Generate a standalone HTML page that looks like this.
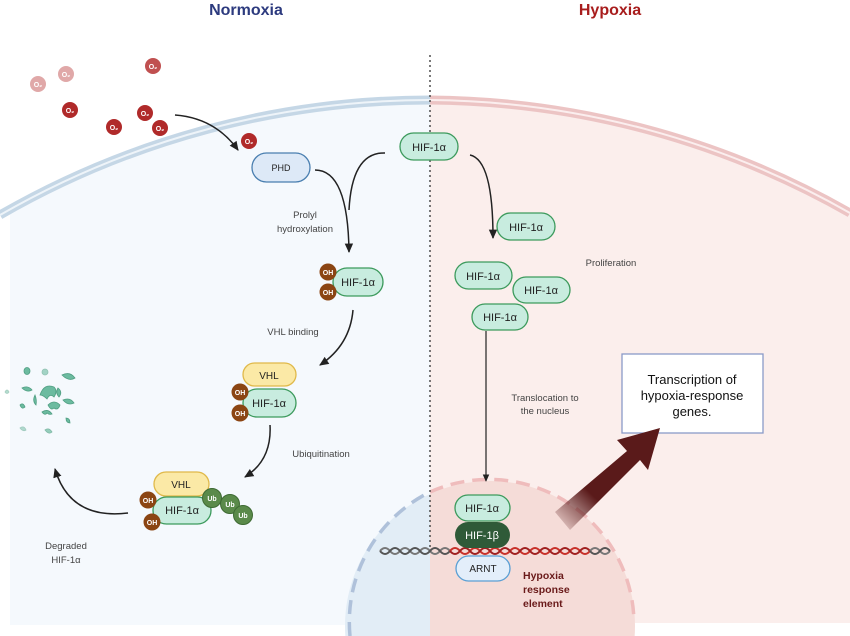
<!DOCTYPE html>
<html><head><meta charset="utf-8"><style>
html,body{margin:0;padding:0;background:#fff}
svg{display:block;font-family:"Liberation Sans",sans-serif}
</style></head><body>
<svg width="850" height="636" viewBox="0 0 850 636" xmlns="http://www.w3.org/2000/svg">
<defs>
<clipPath id="cell"><circle cx="430" cy="961" r="861"/></clipPath>
<clipPath id="nuc"><circle cx="490" cy="626" r="145"/></clipPath>
<marker id="ah" viewBox="0 0 10 10" refX="8" refY="5" markerWidth="7" markerHeight="7" orient="auto"><path d="M0,1 L9,5 L0,9 Z" fill="#222"/></marker>
<linearGradient id="ag" x1="0" y1="1" x2="1" y2="0"><stop offset="0" stop-color="#5a1a1a" stop-opacity="0"/><stop offset="0.35" stop-color="#5a1a1a"/><stop offset="1" stop-color="#5a1a1a"/></linearGradient>
</defs>
<g clip-path="url(#cell)">
<rect x="10" y="90" width="420" height="535" fill="#f5f9fd"/>
<rect x="430" y="90" width="420" height="533" fill="#fbeeec"/>
</g>
<g fill="none">
<path d="M0,215 A861,861 0 0 1 430,100" stroke="#c5d7e6" stroke-width="9"/>
<path d="M0,215 A861,861 0 0 1 430,100" stroke="#eef4f9" stroke-width="2"/>
<path d="M430,100 A861,861 0 0 1 850,213" stroke="#ecc4c4" stroke-width="9"/>
<path d="M430,100 A861,861 0 0 1 850,213" stroke="#fbeeee" stroke-width="2"/>
</g>
<g clip-path="url(#nuc)">
<rect x="340" y="470" width="90" height="166" fill="#e2edf6"/>
<rect x="430" y="470" width="230" height="166" fill="#f5dcd8"/>
</g>
<path d="M350,636 A145,145 0 0 1 430,492" fill="none" stroke="#afc1da" stroke-width="3.5" stroke-dasharray="14,8"/>
<path d="M430,492 A145,145 0 0 1 634,622" fill="none" stroke="#efbcbc" stroke-width="3.5" stroke-dasharray="14,8"/>
<line x1="430" y1="55" x2="430" y2="555" stroke="#333" stroke-width="1.3" stroke-dasharray="2,3"/>
<text x="246" y="15" text-anchor="middle" font-size="16" font-weight="bold" fill="#2c3a7e">Normoxia</text>
<text x="610" y="15" text-anchor="middle" font-size="16" font-weight="bold" fill="#a81d1d">Hypoxia</text>

<g font-size="7" font-weight="bold" fill="#fff" text-anchor="middle">
<circle cx="38" cy="84" r="8" fill="#e0a8a8"/><text x="38" y="87">O₂</text>
<circle cx="66" cy="74" r="8" fill="#e0a8a8"/><text x="66" y="77">O₂</text>
<circle cx="153" cy="66" r="8" fill="#c05050"/><text x="153" y="69">O₂</text>
<circle cx="70" cy="110" r="8" fill="#b02a2a"/><text x="70" y="113">O₂</text>
<circle cx="114" cy="127" r="8" fill="#b02a2a"/><text x="114" y="130">O₂</text>
<circle cx="145" cy="113" r="8" fill="#b02a2a"/><text x="145" y="116">O₂</text>
<circle cx="160" cy="128" r="8" fill="#b02a2a"/><text x="160" y="131">O₂</text>
<circle cx="249" cy="141" r="8" fill="#b02a2a"/><text x="249" y="144">O₂</text>
</g>
<g fill="none" stroke="#222" stroke-width="1.5">
<path d="M175,115 Q215,118 238,150" marker-end="url(#ah)"/>
<path d="M315,170 Q348,170 349,252" marker-end="url(#ah)"/>
<path d="M385,153 Q352,152 349,210"/>
<path d="M353,310 Q350,345 320,365" marker-end="url(#ah)"/>
<path d="M270,425 Q272,460 245,477" marker-end="url(#ah)"/>
<path d="M128,513 Q70,520 55,469" marker-end="url(#ah)"/>
<path d="M470,155 Q493,160 493,238" marker-end="url(#ah)"/>
<path d="M486,331 L486,481" stroke-width="1.2" marker-end="url(#ah)"/>
</g>

<g font-size="11" fill="#222" text-anchor="middle">
<g><rect x="252" y="153" width="58" height="29" rx="14.5" fill="#dde9f7" stroke="#4a7fb0" stroke-width="1.3"/><text x="281" y="171" font-size="9">PHD</text></g>
<g><rect x="400" y="133" width="58" height="27" rx="13.5" fill="#c8ecdf" stroke="#3c9a5c" stroke-width="1.3"/><text x="429" y="151">HIF-1α</text></g>
</g>
<g font-size="9.5" fill="#444" text-anchor="middle">
<text x="305" y="218">Prolyl</text>
<text x="305" y="232">hydroxylation</text>
<text x="293" y="335">VHL binding</text>
<text x="321" y="457">Ubiquitination</text>
<text x="66" y="549">Degraded</text>
<text x="66" y="563">HIF-1α</text>
<text x="611" y="266">Proliferation</text>
<text x="545" y="401">Translocation to</text>
<text x="545" y="414">the nucleus</text>
</g>

<g font-size="11" text-anchor="middle" fill="#222">
<g>
<rect x="333" y="268" width="50" height="28" rx="14" fill="#c8ecdf" stroke="#3c9a5c" stroke-width="1.3"/><text x="358" y="286">HIF-1α</text>
<circle cx="328" cy="272" r="8.5" fill="#8b4513"/><circle cx="328" cy="292" r="8.5" fill="#8b4513"/>
<text x="328" y="275" font-size="7" font-weight="bold" fill="#fff">OH</text><text x="328" y="295" font-size="7" font-weight="bold" fill="#fff">OH</text>
</g>
<g>
<rect x="243" y="363" width="53" height="23" rx="11.5" fill="#fbe9a6" stroke="#e0b94a" stroke-width="1.3"/><text x="269" y="379" font-size="10">VHL</text>
<rect x="243" y="389" width="53" height="28" rx="14" fill="#c8ecdf" stroke="#3c9a5c" stroke-width="1.3"/><text x="269" y="407">HIF-1α</text>
<circle cx="240" cy="392" r="8.5" fill="#8b4513"/><circle cx="240" cy="413" r="8.5" fill="#8b4513"/>
<text x="240" y="395" font-size="7" font-weight="bold" fill="#fff">OH</text><text x="240" y="416" font-size="7" font-weight="bold" fill="#fff">OH</text>
</g>
<g>
<rect x="154" y="472" width="55" height="24" rx="12" fill="#fbe9a6" stroke="#e0b94a" stroke-width="1.3"/><text x="181" y="488" font-size="10">VHL</text>
<rect x="153" y="497" width="58" height="27" rx="13.5" fill="#c8ecdf" stroke="#3c9a5c" stroke-width="1.3"/><text x="182" y="514">HIF-1α</text>
<circle cx="148" cy="500" r="8.5" fill="#8b4513"/><circle cx="152" cy="522" r="8.5" fill="#8b4513"/>
<text x="148" y="503" font-size="7" font-weight="bold" fill="#fff">OH</text><text x="152" y="525" font-size="7" font-weight="bold" fill="#fff">OH</text>
<circle cx="212" cy="498" r="9.5" fill="#5a8a4a" stroke="#3e6a33"/><circle cx="230" cy="504" r="9.5" fill="#5a8a4a" stroke="#3e6a33"/><circle cx="243" cy="515" r="9.5" fill="#5a8a4a" stroke="#3e6a33"/>
<text x="212" y="501" font-size="7" font-weight="bold" fill="#fff">Ub</text><text x="230" y="507" font-size="7" font-weight="bold" fill="#fff">Ub</text><text x="243" y="518" font-size="7" font-weight="bold" fill="#fff">Ub</text>
</g>
<g fill="#6cbba0" stroke="#4f9e82" stroke-width="0.8">
<path d="M40,395 q4,-12 14,-8 q4,4 0,10 q-4,-4 -7,2 q-4,-4 -7,-4z"/>
<ellipse cx="27" cy="371" rx="3" ry="3.5"/><ellipse cx="45" cy="372" rx="3" ry="3" opacity="0.6"/>
<path d="M62,375 q8,-4 13,3 q-6,4 -13,-3z"/>
<path d="M22,388 q6,-3 10,2 q-5,3 -10,-2z"/><path d="M5,392 q2,-4 4,0 q-2,3 -4,0z" opacity="0.5"/>
<path d="M35,395 q2,5 1,10 q-4,-4 -1,-10z"/><path d="M58,388 q5,4 1,9 q-4,-4 -1,-9z"/>
<path d="M48,405 q6,-6 12,0 q-2,6 -6,3 q-3,3 -6,-3z"/>
<path d="M63,400 q7,-3 11,3 q-6,3 -11,-3z"/>
<path d="M20,405 q3,-3 5,2 q-3,3 -5,-2z"/>
<path d="M42,412 q6,-4 10,2 q-3,1 -5,-1 q-2,3 -5,-1z"/>
<path d="M66,418 q4,0 4,5 q-4,0 -4,-5z"/>
<path d="M20,428 q4,-3 6,2 q-3,2 -6,-2z" opacity="0.5"/><path d="M45,430 q4,-3 7,2 q-3,3 -7,-2z" opacity="0.7"/>
</g>
<g><rect x="497" y="213" width="58" height="27" rx="13.5" fill="#c8ecdf" stroke="#3c9a5c" stroke-width="1.3"/><text x="526" y="231">HIF-1α</text></g>
<g><rect x="455" y="262" width="57" height="27" rx="13.5" fill="#c8ecdf" stroke="#3c9a5c" stroke-width="1.3"/><text x="483" y="280">HIF-1α</text></g>
<g><rect x="513" y="277" width="57" height="26" rx="13" fill="#c8ecdf" stroke="#3c9a5c" stroke-width="1.3"/><text x="541" y="294">HIF-1α</text></g>
<g><rect x="472" y="304" width="56" height="26" rx="13" fill="#c8ecdf" stroke="#3c9a5c" stroke-width="1.3"/><text x="500" y="321">HIF-1α</text></g>
</g>

<g>
<rect x="622" y="354" width="141" height="79" fill="#fff" stroke="#8a9ac8" stroke-width="1.3"/>
<text x="692" y="384" text-anchor="middle" font-size="13" fill="#111">Transcription of</text>
<text x="692" y="400" text-anchor="middle" font-size="13" fill="#111">hypoxia-response</text>
<text x="692" y="416" text-anchor="middle" font-size="13" fill="#111">genes.</text>
</g>
<path d="M555,512 L627,451 L617,440 L660,428 L648,470 L640,460 L570,530 Z" fill="url(#ag)"/>

<g fill="none" stroke-width="2">
<path d="M380,551 q5,-6 10,0 q5,6 10,0 q5,-6 10,0 q5,6 10,0 q5,-6 10,0 q5,6 10,0 q5,-6 10,0" stroke="#777"/>
<path d="M380,551 q5,6 10,0 q5,-6 10,0 q5,6 10,0 q5,-6 10,0 q5,6 10,0 q5,-6 10,0 q5,6 10,0" stroke="#555"/>
<path d="M450,551 q5,-6 10,0 q5,6 10,0 q5,-6 10,0 q5,6 10,0 q5,-6 10,0 q5,6 10,0 q5,-6 10,0 q5,6 10,0 q5,-6 10,0 q5,6 10,0 q5,-6 10,0 q5,6 10,0 q5,-6 10,0 q5,6 10,0" stroke="#c8312a"/>
<path d="M450,551 q5,6 10,0 q5,-6 10,0 q5,6 10,0 q5,-6 10,0 q5,6 10,0 q5,-6 10,0 q5,6 10,0 q5,-6 10,0 q5,6 10,0 q5,-6 10,0 q5,6 10,0 q5,-6 10,0 q5,6 10,0 q5,-6 10,0" stroke="#a02020"/>
<path d="M590,551 q5,-6 10,0 q5,6 10,0" stroke="#777"/>
<path d="M590,551 q5,6 10,0 q5,-6 10,0" stroke="#555"/>
</g>
<g font-size="11" text-anchor="middle">
<g><rect x="455" y="495" width="55" height="26" rx="13" fill="#c8ecdf" stroke="#3c9a5c" stroke-width="1.3"/><text x="482" y="512" fill="#222">HIF-1α</text></g>
<g><rect x="455" y="522" width="55" height="26" rx="13" fill="#2f5a38"/><text x="482" y="539" fill="#fff">HIF-1β</text></g>
<g><rect x="456" y="556" width="54" height="25" rx="12.5" fill="#e3eefa" stroke="#5a9fd4" stroke-width="1.3"/><text x="483" y="572" font-size="10" fill="#222">ARNT</text></g>
</g>
<g font-size="10.5" font-weight="bold" fill="#6a1a1a">
<text x="523" y="579">Hypoxia</text><text x="523" y="593">response</text><text x="523" y="607">element</text>
</g>
</svg>
</body></html>
